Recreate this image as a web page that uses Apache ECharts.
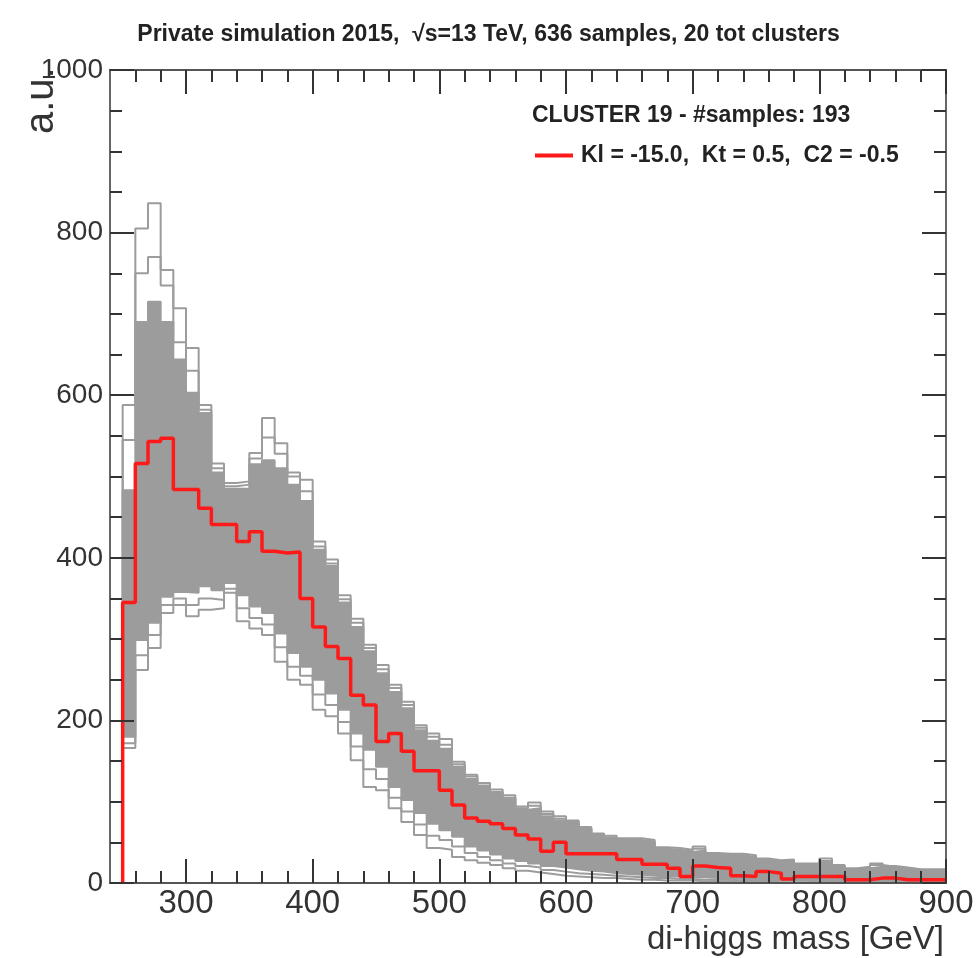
<!DOCTYPE html>
<html><head><meta charset="utf-8">
<script src="https://cdn.jsdelivr.net/npm/echarts@6/dist/echarts.min.js"></script>
<style>html,body{margin:0;padding:0;background:#fff}#c{width:977px;height:958px}</style>
</head><body><div id="c"></div>
<script>
// ---- data ----
const binEdges = [250,260,270,280,290,300,310,320,330,340,350,360,370,380,390,400,410,420,430,440,450,460,470,480,490,500,510,520,530,540,550,560,570,580,590,600,610,620,630,640,650,660,670,680,690,700,710,720,730,740,750,760,770,780,790,800,810,820,830,840,850,860,870,880,890,900];
const redCounts = [345,516,543,547,484,484,461,441,441,420,
 432,408,406,407,350,315,291,276,231,219,
 174,184,162,138,138,114,96,80,76,73,
 67,59,54,39,50,36,36,36,36,29,
 29,23,23,18,8,21,19,18,9,8,
 14,12,5,8,8,8,8,4,4,6,
 6,4,4,4,4];
const envMax = [588,805,836,754,707,658,588,516,492,494,
 529,572,541,505,496,420,398,354,325,293,
 268,244,223,194,184,177,149,133,123,115,
 108,94,99,88,82,77,69,61,58,55,
 55,53,44,43,41,45,37,36,36,34,
 30,28,29,24,24,30,22,18,20,24,
 21,19,17,17,17];
const upper2 = [545,750,770,735,665,630,582,510,488,490,
 522,548,528,500,482,414,393,349,320,289,
 263,240,219,191,180,170,146,131,120,112,
 105,92,95,85,79,75,67,60,56,53,
 53,51,42,41,39,42,36,35,34,32,
 29,27,27,23,23,27,21,17,19,22,
 20,18,16,16,16];
const denseTop = [483,690,715,690,644,603,578,505,485,485,
 515,520,510,490,470,410,390,345,315,285,
 258,235,215,188,175,165,143,128,118,110,
 103,90,92,82,77,73,66,58,55,52,
 51,49,41,40,38,40,35,34,33,31,
 28,26,26,22,22,25,20,17,18,20,
 19,18,16,16,16];
const denseBottom = [180,299,320,352,358,357,365,360,369,354,
 340,332,307,283,266,250,233,213,184,164,
 143,118,102,86,73,65,57,45,40,35,
 30,27,24,21,19,17,15,14,12,11,
 10,9,8,8,7,7,6,6,5,5,
 5,4,4,4,4,3,3,3,3,3,
 3,3,3,3,3];
const lower2 = [172,280,305,342,350,342,350,348,362,338,
 326,318,290,266,255,232,219,198,168,140,
 128,105,88,72,58,53,45,37,32,28,
 24,21,19,16,14,12,11,10,9,8,
 7,6,6,5,5,4,4,4,3,3,
 3,3,3,3,2,2,2,2,2,2,
 2,2,2,2,2];
const envMin = [166,262,289,332,342,328,336,338,357,322,
 313,305,272,250,244,213,205,184,151,118,
 114,92,75,59,43,41,32,28,25,22,
 18,15,13,11,9,8,7,6,6,5,
 4,4,3,3,3,2,2,2,2,2,
 2,1,1,1,1,1,1,1,1,1,
 1,1,1,1,1];
const xMajorTicks = [300,400,500,600,700,800,900];
const xMinorTicks = [260,280,320,340,360,380,420,440,460,480,520,540,560,580,620,640,660,680,720,740,760,780,820,840,860,880];
const yMajorTicks = [0,200,400,600,800,1000];
const yMinorTicks = [50,100,150,250,300,350,450,500,550,650,700,750,850,900,950];
const titleText = 'Private simulation 2015,  \u221As=13 TeV, 636 samples, 20 tot clusters';
const clusterText = 'CLUSTER 19 - #samples: 193';
const redLabel = 'Kl = -15.0,  Kt = 0.5,  C2 = -0.5';
const xTitle = 'di-higgs mass [GeV]';
const yTitle = 'a.u.';

// ---- build ----
const FONT = '"Liberation Sans", Arial, Helvetica, sans-serif';
const GRAY = '#9c9c9c';
function toSteps(values) {
  const pts = [[binEdges[0], 0]];
  values.forEach((v, i) => pts.push([binEdges[i], v]));
  pts.push([binEdges[values.length], values[values.length - 1]]);
  return pts;
}
function stepSeries(name, values, color, width, fill, z) {
  const s = {type: 'line', name, step: 'end', data: toSteps(values), symbol: 'none',
    lineStyle: {color, width}, itemStyle: {color}, z, silent: true, animation: false};
  if (fill) s.areaStyle = {color: fill, opacity: 1};
  return s;
}
const plain = v => String(v);
function xAx(pos, ticks, len, labels) {
  return {type: 'value', min: 240, max: 900, position: pos, z: 10,
    axisLine: {show: true, onZero: false, lineStyle: {color: '#555', width: 2}},
    axisTick: {show: true, inside: true, length: len, customValues: ticks, lineStyle: {color: '#333', width: 2}},
    axisLabel: labels ? {show: true, customValues: ticks, formatter: plain, fontSize: 33, color: '#333', fontFamily: FONT, margin: 4} : {show: false},
    splitLine: {show: false}};
}
function yAx(pos, ticks, len, labels) {
  return {type: 'value', min: 0, max: 1000, position: pos, z: 10,
    axisLine: {show: true, onZero: false, lineStyle: {color: '#666', width: 2}},
    axisTick: {show: true, inside: true, length: len, customValues: ticks, lineStyle: {color: '#333', width: 2}},
    axisLabel: labels ? {show: true, customValues: ticks, formatter: plain, fontSize: 28, color: '#333', fontFamily: FONT, margin: 7} : {show: false},
    splitLine: {show: false}};
}
const chart = echarts.init(document.getElementById('c'), null, {renderer: 'canvas'});
chart.setOption({
  animation: false,
  backgroundColor: '#fff',
  title: [
    {text: titleText, left: 'center', top: 18, textStyle: {fontSize: 23, fontWeight: 'bold', color: '#222', fontFamily: FONT}},
    {text: clusterText, left: 527, top: 99, textStyle: {fontSize: 23, fontWeight: 'bold', color: '#222', fontFamily: FONT}},
    {text: xTitle, right: 28, top: 918, textStyle: {fontSize: 33, fontWeight: 'normal', color: '#333', fontFamily: FONT}}
  ],
  legend: {data: [{name: redLabel, icon: 'rect'}], left: 530, top: 139, itemWidth: 38, itemHeight: 4, itemGap: 10,
    textStyle: {fontSize: 23, fontWeight: 'bold', color: '#222', fontFamily: FONT, padding: [0, 0, 0, 3]}},
  grid: {left: 110, right: 31, top: 70, bottom: 75},
  xAxis: [xAx('bottom', xMajorTicks, 24, true), xAx('bottom', xMinorTicks, 12, false),
          xAx('top', xMajorTicks, 24, false), xAx('top', xMinorTicks, 12, false)],
  yAxis: [yAx('left', yMajorTicks, 24, true), yAx('left', yMinorTicks, 12, false),
          yAx('right', yMajorTicks, 24, false), yAx('right', yMinorTicks, 12, false)],
  graphic: [{type: 'text', x: 62, y: 134, rotation: Math.PI / 2,
    style: {text: yTitle, font: '40px "Liberation Sans", Arial, sans-serif', fill: '#333', textAlign: 'left', textVerticalAlign: 'bottom', align: 'left', verticalAlign: 'bottom'}}],
  series: [
    stepSeries('denseTop', denseTop, GRAY, 2, GRAY, 2),
    stepSeries('envMax', envMax, GRAY, 2, null, 3),
    stepSeries('upper2', upper2, GRAY, 2, null, 3),
    stepSeries('denseBottom', denseBottom, GRAY, 2, '#ffffff', 4),
    stepSeries('lower2', lower2, GRAY, 2, null, 5),
    stepSeries('envMin', envMin, GRAY, 2, null, 5),
    stepSeries(redLabel, redCounts, '#ff1a1a', 3.5, null, 8)
  ]
});
</script></body></html>
